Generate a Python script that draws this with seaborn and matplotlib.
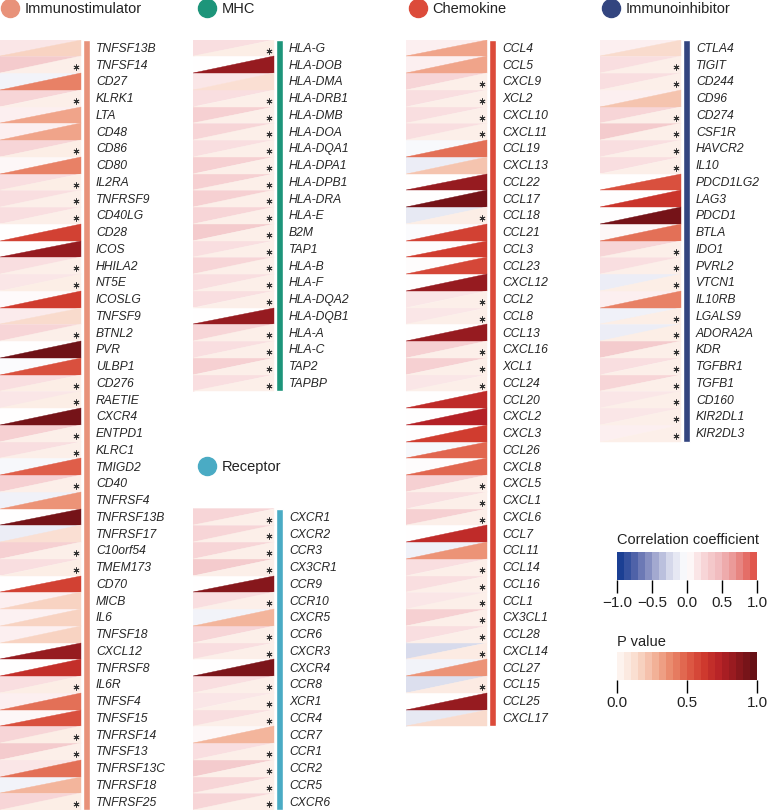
import numpy as np
import matplotlib.pyplot as plt
import seaborn as sns
from matplotlib.collections import PolyCollection
from matplotlib.colors import ListedColormap, Normalize
from matplotlib.cm import ScalarMappable

sns.set_theme(style="white")
plt.rcParams['font.family'] = ['Liberation Sans', 'DejaVu Sans']

# ---- data: gene, correlation coefficient (upper-left), P value (lower-right)
stim_genes = ['TNFSF13B', 'TNFSF14', 'CD27', 'KLRK1', 'LTA', 'CD48', 'CD86', 'CD80', 'IL2RA',
              'TNFRSF9', 'CD40LG', 'CD28', 'ICOS', 'HHILA2', 'NT5E', 'ICOSLG', 'TNFSF9', 'BTNL2',
              'PVR', 'ULBP1', 'CD276', 'RAETIE', 'CXCR4', 'ENTPD1', 'KLRC1', 'TMIGD2', 'CD40',
              'TNFRSF4', 'TNFRSF13B', 'TNFRSF17', 'C10orf54', 'TMEM173', 'CD70', 'MICB', 'IL6',
              'TNFSF18', 'CXCL12', 'TNFRSF8', 'IL6R', 'TNFSF4', 'TNFSF15', 'TNFRSF14', 'TNFSF13',
              'TNFRSF13C', 'TNFRSF18', 'TNFRSF25']
stim_corr = [0.15, 0.35, -0.08, 0.25, 0.10, 0.10, 0.25, 0.05, 0.20,
             0.20, 0.20, 0.00, 0.00, 0.20, 0.15, 0.03, 0.12, 0.25,
             0.00, -0.03, 0.20, 0.15, 0.00, 0.30, 0.20, -0.05, 0.30,
             -0.10, 0.00, -0.12, 0.30, 0.20, 0.00, 0.10, 0.08,
             0.10, 0.00, 0.00, 0.20, 0.10, 0.05, 0.25, 0.35,
             0.15, -0.08, 0.25]
stim_p = [0.15, 0.02, 0.40, 0.02, 0.30, 0.30, 0.03, 0.40, 0.03,
          0.02, 0.02, 0.60, 0.85, 0.02, 0.03, 0.62, 0.12, 0.02,
          0.97, 0.55, 0.03, 0.03, 0.95, 0.02, 0.02, 0.50, 0.02,
          0.35, 0.95, 0.10, 0.02, 0.03, 0.60, 0.15, 0.15,
          0.15, 0.85, 0.68, 0.03, 0.45, 0.55, 0.03, 0.02,
          0.45, 0.25, 0.03]

mhc_genes = ['HLA-G', 'HLA-DOB', 'HLA-DMA', 'HLA-DRB1', 'HLA-DMB', 'HLA-DOA', 'HLA-DQA1',
             'HLA-DPA1', 'HLA-DPB1', 'HLA-DRA', 'HLA-E', 'B2M', 'TAP1', 'HLA-B', 'HLA-F',
             'HLA-DQA2', 'HLA-DQB1', 'HLA-A', 'HLA-C', 'TAP2', 'TAPBP']
mhc_corr = [0.20, 0.00, 0.15, 0.20, 0.30, 0.25, 0.20, 0.30, 0.30, 0.30, 0.25, 0.35, 0.20,
            0.25, 0.20, 0.20, 0.00, 0.25, 0.20, 0.30, 0.20]
mhc_p = [0.03, 0.85, 0.10, 0.02, 0.02, 0.02, 0.02, 0.02, 0.02, 0.02, 0.02, 0.02, 0.02,
         0.02, 0.02, 0.02, 0.85, 0.02, 0.02, 0.02, 0.02]

rec_genes = ['CXCR1', 'CXCR2', 'CCR3', 'CX3CR1', 'CCR9', 'CCR10', 'CXCR5', 'CCR6', 'CXCR3',
             'CXCR4', 'CCR8', 'XCR1', 'CCR4', 'CCR7', 'CCR1', 'CCR2', 'CCR5', 'CXCR6']
rec_corr = [0.25, 0.25, 0.25, 0.35, 0.00, 0.20, -0.08, 0.25, 0.20,
            0.00, 0.20, 0.15, 0.20, 0.05, 0.20, 0.35, 0.25, 0.25]
rec_p = [0.02, 0.02, 0.02, 0.02, 0.90, 0.02, 0.25, 0.02, 0.02,
         0.93, 0.02, 0.02, 0.02, 0.25, 0.02, 0.02, 0.02, 0.02]

chem_genes = ['CCL4', 'CCL5', 'CXCL9', 'XCL2', 'CXCL10', 'CXCL11', 'CCL19', 'CXCL13', 'CCL22',
              'CCL17', 'CCL18', 'CCL21', 'CCL3', 'CCL23', 'CXCL12', 'CCL2', 'CCL8', 'CCL13',
              'CXCL16', 'XCL1', 'CCL24', 'CCL20', 'CXCL2', 'CXCL3', 'CCL26', 'CXCL8', 'CXCL5',
              'CXCL1', 'CXCL6', 'CCL7', 'CCL11', 'CCL14', 'CCL16', 'CCL1', 'CX3CL1', 'CCL28',
              'CXCL14', 'CCL27', 'CCL15', 'CCL25', 'CXCL17']
chem_corr = [0.10, 0.10, 0.25, 0.20, 0.20, 0.20, -0.04, -0.12, 0.00,
             0.00, -0.15, -0.03, 0.02, 0.02, 0.00, 0.15, 0.15, 0.00,
             0.30, 0.30, 0.15, 0.00, 0.00, 0.00, -0.05, 0.02, 0.30,
             0.20, 0.30, 0.00, -0.10, 0.20, 0.20, 0.15, 0.30, 0.20,
             -0.25, -0.08, -0.22, 0.00, -0.15]
chem_p = [0.30, 0.30, 0.02, 0.02, 0.02, 0.02, 0.45, 0.20, 0.85,
          0.95, 0.03, 0.60, 0.62, 0.58, 0.85, 0.02, 0.02, 0.85,
          0.02, 0.02, 0.02, 0.70, 0.75, 0.62, 0.48, 0.48, 0.02,
          0.02, 0.02, 0.70, 0.35, 0.02, 0.02, 0.02, 0.02, 0.02,
          0.04, 0.35, 0.04, 0.85, 0.12]

inh_genes = ['CTLA4', 'TIGIT', 'CD244', 'CD96', 'CD274', 'CSF1R', 'HAVCR2', 'IL10', 'PDCD1LG2',
             'LAG3', 'PDCD1', 'BTLA', 'IDO1', 'PVRL2', 'VTCN1', 'IL10RB', 'LGALS9', 'ADORA2A',
             'KDR', 'TGFBR1', 'TGFB1', 'CD160', 'KIR2DL1', 'KIR2DL3']
inh_corr = [0.10, 0.20, 0.20, 0.10, 0.25, 0.35, 0.20, 0.20, 0.00,
            0.00, 0.00, 0.05, 0.25, 0.20, -0.12, 0.10, -0.10, -0.12,
            0.35, 0.20, 0.25, 0.15, 0.15, 0.10]
inh_p = [0.12, 0.02, 0.02, 0.20, 0.02, 0.02, 0.02, 0.02, 0.55,
         0.65, 0.95, 0.45, 0.02, 0.02, 0.03, 0.40, 0.03, 0.03,
         0.02, 0.02, 0.02, 0.02, 0.02, 0.02]

corr_colors = ['#1b3f93', '#5b6aad', '#9da3cd', '#d8dbec', '#ffffff',
               '#f7d6d8', '#f0b9bc', '#e98f8d', '#e0574d']
p_colors = ['#fdf3ee', '#f9dacb', '#f3b59c', '#ea8a6d', '#df5f49',
            '#cf3a2e', '#b52126', '#8f191e', '#661015']

corr_cmap = sns.blend_palette(corr_colors, as_cmap=True)
p_cmap = sns.blend_palette(p_colors, as_cmap=True)
corr_norm = Normalize(-1, 1)
p_norm = Normalize(0, 1)

W, H = 768, 812
fig = plt.figure(figsize=(W / 100, H / 100), dpi=100)

ROW_H = 16.75
TOP = 40.6
N_ROWS = 46
CELL_W = 81.0
AX_W = 190.0


def make_ax(left_px):
    ax = fig.add_axes([left_px / W, 1 - (TOP + N_ROWS * ROW_H) / H,
                       AX_W / W, N_ROWS * ROW_H / H])
    ax.set_xlim(0, AX_W / CELL_W)
    ax.set_ylim(N_ROWS, 0)
    ax.axis('off')
    return ax


def draw_group(ax, title, color, genes, corr, pval, start, head_row, head_x):
    n = len(genes)
    rows = start + np.arange(n)
    upper = [[(0, r), (1, r), (0, r + 1)] for r in rows]
    lower = [[(1, r), (1, r + 1), (0, r + 1)] for r in rows]
    ax.add_collection(PolyCollection(upper, facecolors=corr_cmap(corr_norm(np.array(corr))),
                                     edgecolors='face', linewidths=0.3))
    ax.add_collection(PolyCollection(lower, facecolors=p_cmap(p_norm(np.array(pval))),
                                     edgecolors='face', linewidths=0.3))
    ax.bar(1.07, n, bottom=start, width=0.08, color=color, align='center')
    for r, g in zip(rows, genes):
        ax.text(1.185, r + 0.5, g, style='italic', fontsize=8.7, va='center', ha='left')
    sig = rows[np.array(pval) < 0.05]
    ax.plot(np.full(len(sig), 0.935), sig + 0.66, ls='none', marker=(6, 2, 0),
            ms=4.3, mew=0.6, color='#333333')
    ax.plot(head_x, head_row, 'o', ms=13, color=color, clip_on=False)
    ax.text(head_x + 0.18, head_row, title, fontsize=10.5, va='center', ha='left',
            color='#222222')


ax1 = make_ax(0)
ax2 = make_ax(193)
ax3 = make_ax(406)
ax4 = make_ax(600)

draw_group(ax1, 'Immunostimulator', '#e8927a', stim_genes, stim_corr, stim_p, 0, -1.89, 0.12)
draw_group(ax2, 'MHC', '#1d957a', mhc_genes, mhc_corr, mhc_p, 0, -1.89, 0.17)
draw_group(ax2, 'Receptor', '#4aabc4', rec_genes, rec_corr, rec_p, 28, 25.45, 0.17)
draw_group(ax3, 'Chemokine', '#dc4b3a', chem_genes, chem_corr, chem_p, 0, -1.89, 0.15)
draw_group(ax4, 'Immunoinhibitor', '#33457f', inh_genes, inh_corr, inh_p, 0, -1.89, 0.14)

# ---- legends
def draw_cbar(y_top, colors, vmin, vmax, ticks, title, title_y):
    cax = fig.add_axes([617 / W, 1 - (y_top + 28) / H, 140 / W, 28 / H])
    sm = ScalarMappable(norm=Normalize(vmin, vmax),
                        cmap=ListedColormap(sns.blend_palette(colors, 20)))
    cb = fig.colorbar(sm, cax=cax, orientation='horizontal', ticks=ticks)
    cb.outline.set_visible(False)
    cax.tick_params(axis='x', bottom=True, length=9, width=1, color='black',
                    labelsize=11, pad=2, direction='out', labelcolor='#222222')
    fig.text(617 / W, 1 - title_y / H, title, fontsize=10.5, va='center', ha='left',
             color='#222222')


draw_cbar(553, corr_colors, -1, 1, [-1, -0.5, 0, 0.5, 1], 'Correlation coefficient', 540)
draw_cbar(653, p_colors, 0, 1, [0, 0.5, 1], 'P value', 642)

fig.savefig('out.png', dpi=100)
